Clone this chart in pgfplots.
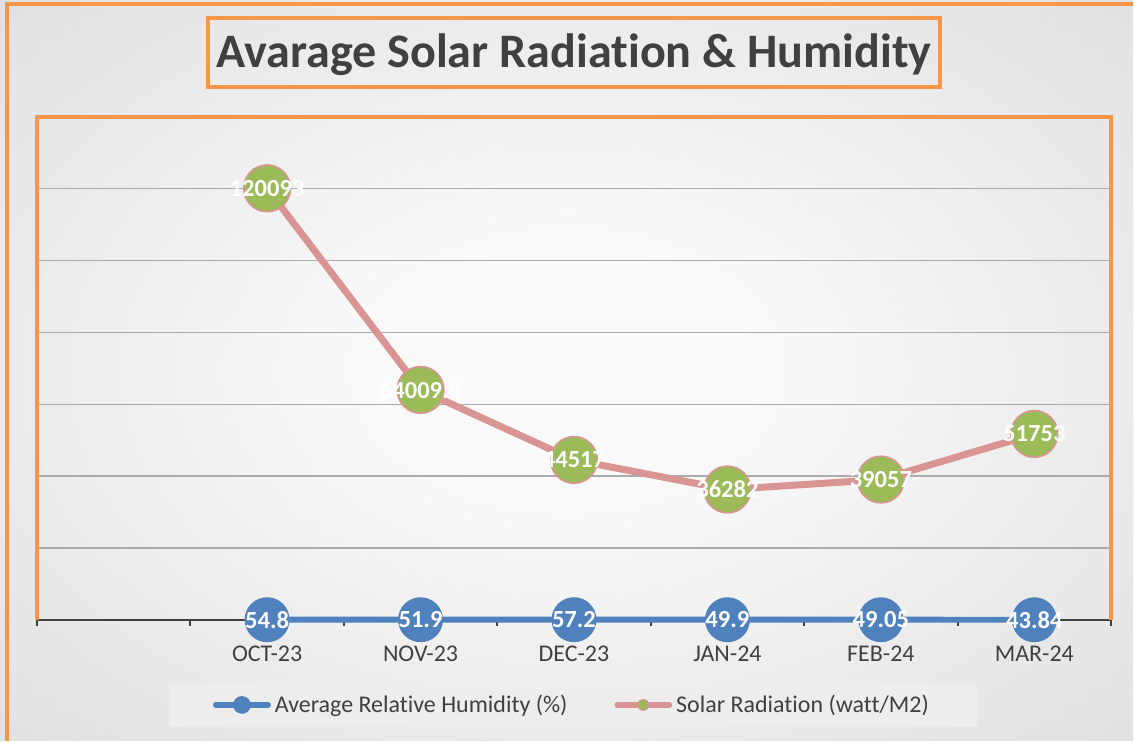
\documentclass[border=0pt]{standalone}
\usepackage{fontspec}
\setmainfont{Carlito}[Ligatures=NoCommon]
\usepackage{pgfplots}
\pgfplotsset{compat=1.18}
\definecolor{orangeF}{HTML}{F79646}
\definecolor{blueS}{HTML}{4F81BD}
\definecolor{pinkS}{HTML}{D99594}
\definecolor{greenS}{HTML}{9BBB59}
\definecolor{txt}{HTML}{404040}
\definecolor{gridc}{HTML}{ABABAB}
\definecolor{legfill}{HTML}{EDEDED}
\definecolor{bgA}{HTML}{FAFAFA}
\definecolor{bgB}{HTML}{D4D4D4}
\definecolor{bgC}{HTML}{C2C2C2}
\pgfdeclareradialshading{bgshade}{\pgfpoint{0bp}{0bp}}{color(0bp)=(bgA); color(8bp)=(bgA); color(50bp)=(bgB); color(72bp)=(bgC)}
\begin{document}
\begin{tikzpicture}[x=0.5pt,y=-0.5pt]
\shade[shading=bgshade] (0,0) rectangle (1135,742);
\draw[orangeF, line width=2pt] (7,742) -- (7,4) -- (1135,4);
\draw[txt, line width=1.4pt] (37,621) -- (1113,621);
\begin{axis}[
  at={(18.5pt,-310.5pt)}, anchor=south west,
  scale only axis, width=538pt, height=252pt,
  xmin=-0.5, xmax=6.5, ymin=0, ymax=140000,
  axis line style={draw=none},
  xtick={1,...,6},
  xticklabels={OCT-23,NOV-23,DEC-23,JAN-24,FEB-24,MAR-24},
  minor xtick={-0.5,0.5,...,6.5},
  major tick length=0pt, minor tick length=3pt,
  tick align=outside,
  xtick pos=left, ytick pos=left,
  minor tick style={txt, line width=1pt},
  ytick={20000,40000,60000,80000,100000,120000},
  yticklabel=\empty, scaled y ticks=false,
  ymajorgrids, grid style={gridc, line width=0.75pt},
  clip=false,
  xticklabel style={font=\fontsize{12}{14}\selectfont, text=txt, yshift=-9.5pt},
  legend columns=2,
  legend cell align=left,
  legend style={at={(axis description cs:0.499,-0.169)}, anchor=center,
    draw=none, fill=legfill, inner xsep=22pt, inner ysep=4pt,
    font=\fontsize{12}{14}\selectfont, text=txt,
    /tikz/every even column/.append style={column sep=21.5pt}},
]
\addplot[blueS, line width=3pt, mark=*, mark size=11pt,
  mark options={fill=blueS, draw=blueS, line width=0.5pt},
  point meta=explicit symbolic, nodes near coords,
  every node near coord/.append style={anchor=center, text=white, font=\bfseries\fontsize{12.3}{14}\selectfont},
  legend image code/.code={\draw[blueS, line width=3pt, line cap=round] (0pt,0pt) -- (26pt,0pt); \fill[blueS] (13pt,0pt) circle (2.9pt);}]
  coordinates {(1,54.8) [54.8] (2,51.9) [51.9] (3,57.2) [57.2] (4,49.9) [49.9] (5,49.05) [49.05] (6,43.84) [43.84]};
\addlegendentry{Average Relative Humidity (\%)}
\addplot[pinkS, line width=3.5pt, mark=*, mark size=11.7pt,
  mark options={fill=greenS, draw=pinkS, line width=0.8pt},
  point meta=explicit symbolic, nodes near coords,
  every node near coord/.append style={anchor=center, text=white, font=\bfseries\fontsize{12.3}{14}\selectfont},
  legend image code/.code={\draw[pinkS, line width=3pt, line cap=round] (0pt,0pt) -- (26pt,0pt); \filldraw[fill=greenS, draw=pinkS, line width=0.6pt] (13pt,0pt) circle (2.8pt);}]
  coordinates {(1,120093) [120093] (2,64009.5) [64009.5] (3,44517) [44517] (4,36282) [36282] (5,39057) [39057] (6,51753) [51753]};
\addlegendentry{Solar Radiation (watt/M2)}
\end{axis}
\draw[orangeF, line width=2pt] (37,621) -- (37,117) -- (1113,117) -- (1113,621);
\draw[orangeF, line width=2pt] (208,18) rectangle (942,87);
\node[anchor=base, font=\bfseries\fontsize{24.1}{28}\selectfont, text=txt, inner sep=0pt] at (575,68) {Avarage Solar Radiation \& Humidity};
\end{tikzpicture}
\end{document}
